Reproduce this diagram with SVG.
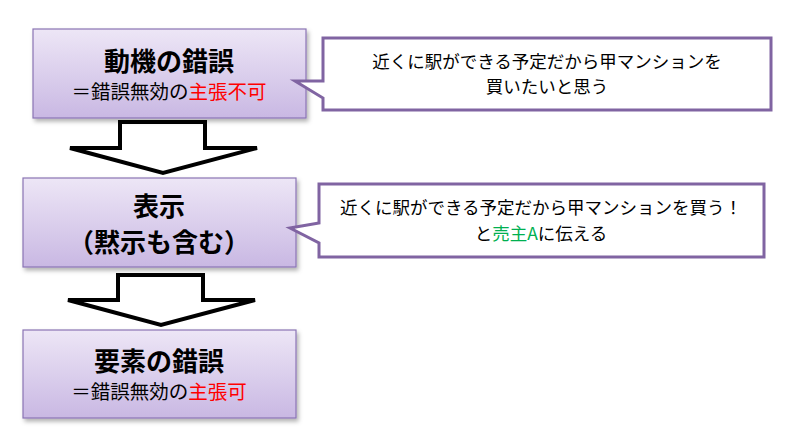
<svg xmlns="http://www.w3.org/2000/svg" width="803" height="427" viewBox="0 0 803 427">
<defs>
<linearGradient id="g" x1="0" y1="0" x2="0" y2="1"><stop offset="0" stop-color="#ede6f6"/><stop offset="1" stop-color="#c9b8e3"/></linearGradient>
<filter id="s" x="-5%" y="-5%" width="115%" height="125%"><feDropShadow dx="2" dy="3" stdDeviation="2" flood-opacity="0.3"/></filter>
</defs>
<style>
.box{fill:url(#g);stroke:#8a74b4;stroke-width:1.2;filter:url(#s)}
.call{fill:#fff;stroke:#8064a2;stroke-width:3}
.arr{fill:#fff;stroke:#000;stroke-width:4;stroke-linejoin:miter}
text{font-family:"Noto Sans CJK JP","Noto Sans",sans-serif;text-anchor:middle;fill:#000}
.t{font-size:26px;font-weight:bold}
.st{font-size:19.5px}
.c{font-size:17.5px}
.r{fill:#ff0000}.gr{fill:#00b050}
</style>
<g id="connectors">
<path class="arr" d="M120,122 H205 V148 H257 L163,173 L70,148 H120 Z"/>
<path class="arr" d="M118,275 H203 V300 H255 L161,325 L68,300 H118 Z"/>
</g>
<g id="node1"><rect class="box" x="33" y="29" width="273" height="89"/>
<text class="t" x="169" y="71">動機の錯誤</text>
<text class="st" x="169" y="99">＝錯誤無効の<tspan class="r">主張不可</tspan></text></g>
<g id="node2"><rect class="box" x="23" y="178" width="273" height="89"/>
<text class="t" x="159" y="216">表示</text>
<text class="t" x="159" y="252">（黙示も含む）</text></g>
<g id="node3"><rect class="box" x="23" y="330" width="273" height="88"/>
<text class="t" x="159" y="371">要素の錯誤</text>
<text class="st" x="159" y="399">＝錯誤無効の<tspan class="r">主張可</tspan></text></g>
<g id="callout1"><path class="call" d="M323,38 H771 V110 H323 V98 L295,81 L323,81 Z"/>
<text class="c" x="547" y="68">近くに駅ができる予定だから甲マンションを</text>
<text class="c" x="547" y="93">買いたいと思う</text></g>
<g id="callout2"><path class="call" d="M319,184 H764 V257 H319 V243 L290,228 L319,223 Z"/>
<text class="c" x="541" y="214">近くに駅ができる予定だから甲マンションを買う！</text>
<text class="c" x="541" y="240">と<tspan class="gr">売主A</tspan>に伝える</text></g>
</svg>
